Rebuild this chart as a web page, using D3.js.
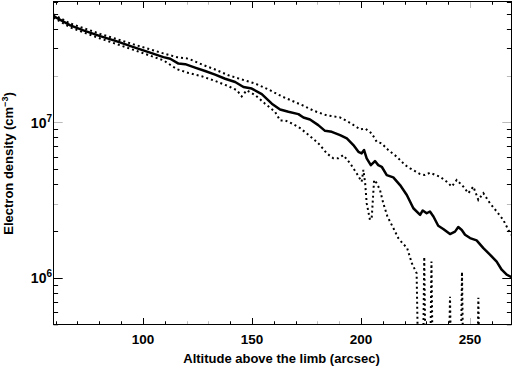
<!DOCTYPE html>
<html><head><meta charset="utf-8">
<script src="https://cdn.jsdelivr.net/npm/d3@7"></script>
<style>body{margin:0;background:#fff}svg{display:block}</style>
</head><body><svg id="c" width="513" height="368"></svg>
<script>
// ---- data ----
const altMean = [59.0,66.7,72.7,80.4,88.1,95.7,103.3,109.4,112.5,116.3,119.4,123.9,128.5,133.1,137.7,142.3,146.1,149.9,154.5,159.1,162.9,166.7,171.3,173.6,176.6,180.4,183.5,186.6,190.4,193.5,196.5,198.8,200.3,201.4,202.6,204.5,206.4,207.9,209.5,211.8,214.8,217.9,221.0,224.0,227.1,228.3,230.1,231.6,233.2,235.4,237.7,240.8,243.1,244.6,246.2,247.7,250.0,253.0,256.1,259.1,262.2,264.5,266.8,269.0];
const densMean = [4.84e7,4.21e7,3.91e7,3.59e7,3.32e7,3.05e7,2.81e7,2.63e7,2.57e7,2.39e7,2.37e7,2.25e7,2.14e7,2.03e7,1.91e7,1.82e7,1.69e7,1.65e7,1.52e7,1.32e7,1.21e7,1.17e7,1.13e7,1.076e7,1.044e7,9.6e6,8.82e6,8.69e6,8.28e6,7.88e6,7.14e6,6.47e6,6.32e6,6.63e6,5.87e6,5.31e6,5.64e6,5.31e6,5.18e6,4.58e6,4.43e6,3.95e6,3.41e6,2.80e6,2.54e6,2.71e6,2.60e6,2.67e6,2.48e6,2.16e6,2.06e6,1.91e6,1.98e6,2.12e6,2.03e6,1.89e6,1.80e6,1.74e6,1.55e6,1.41e6,1.27e6,1.126e6,1.046e6,1.01e6];

const altUpper = [59.0,66.7,80.4,95.7,109.4,115.6,120.9,127.0,133.1,139.2,145.3,151.4,157.5,163.7,169.8,173.6,178.2,184.3,190.4,195.0,199.6,201.9,204.9,207.2,209.5,212.5,216.4,220.2,222.5,227.1,229.3,231.6,236.2,239.3,241.6,243.9,246.9,249.2,251.5,253.8,256.1,259.1,262.2,265.2,268.3,269.0];
const densUpper = [4.95e7,4.33e7,3.71e7,3.18e7,2.78e7,2.63e7,2.57e7,2.36e7,2.19e7,2.01e7,1.89e7,1.78e7,1.63e7,1.47e7,1.35e7,1.28e7,1.19e7,1.11e7,1.076e7,9.93e6,9.01e6,9.14e6,8.49e6,7.50e6,7.32e6,6.63e6,6.01e6,5.31e6,5.06e6,4.65e6,4.58e6,4.74e6,4.47e6,4.15e6,3.86e6,4.26e6,3.86e6,3.50e6,3.86e6,3.17e6,3.50e6,3.02e6,2.67e6,2.36e6,1.94e6,1.89e6];

const altLower = [59.0,66.7,80.4,95.7,109.4,115.6,120.9,127.0,133.1,139.2,143.1,145.3,147.6,151.4,156.0,160.6,162.9,165.2,168.3,172.1,175.1,179.7,181.2,184.3,187.3,189.6,191.9,195.0,198.0,200.3,201.1,201.9,202.6,204.1,204.9,206.0,207.2,208.7,210.2,212.1,214.8,217.1,219.3,221.1,223.3,225.5,226.4,228.3,229.0,229.7,231.6,232.3,233.0,240.1,240.8,241.5,245.6,246.3,247.0,253.2,253.8,254.4,269.0];
const densLower = [4.73e7,4.08e7,3.47e7,2.93e7,2.51e7,2.20e7,2.08e7,1.98e7,1.85e7,1.71e7,1.61e7,1.47e7,1.61e7,1.50e7,1.32e7,1.17e7,1.03e7,1.03e7,9.84e6,9.18e6,8.49e6,7.50e6,7.14e6,6.32e6,5.87e6,5.87e6,6.16e6,5.45e6,4.70e6,4.15e6,4.94e6,4.06e6,3.02e6,2.36e6,2.42e6,4.26e6,4.06e6,3.67e6,3.02e6,2.48e6,2.09e6,1.80e6,1.65e6,1.56e6,1.24e6,1.07e6,2e5,2e5,1.36e6,2e5,2e5,1.27e6,2e5,2e5,7.55e5,2e5,2e5,1.09e6,2e5,2e5,7.44e5,2e5,2e5];

const xMajor = [100,150,200,250];
const xLabels = ["100","150","200","250"];
const yMajor = [1e6,1e7];
const yLabelExp = ["6","7"];

// ---- chart ----
const svg = d3.select("#c");
const L = 53.5, R = 511.5, T = 1.5, B = 324.5;
const x = d3.scaleLinear().domain([59,269]).range([L,R]);
const y = d3.scaleLog().domain([5e5,6e7]).range([B,T]);

svg.append("defs").append("clipPath").attr("id","clip")
  .append("rect").attr("x",L).attr("y",T).attr("width",R-L).attr("height",B-T);

const xMinor = d3.range(60,270,10).filter(v=>!xMajor.includes(v));
const yMinor = [];
[1e5,1e6,1e7].forEach(d=>{for(let k=2;k<=9;k++){const v=k*d; if(v>=5e5 && v<=6e7) yMinor.push(v);}});
const grayX = [120,130,180,190,250];
const grayY = [2e7,1e7,3e6,5e5];
const xLen = 6.5, yLen = 9.2;
const g = svg.append("g");
function tcol(v,list){return list.some(a=>Math.abs(a-v)/a<1e-6)?"#bbb":"#000";}
[...xMajor.map(v=>[v,xLen]),...xMinor.map(v=>[v,xLen/2])].forEach(([v,len])=>{
  const px = Math.round(x(v))+0.5, c = tcol(v,grayX);
  g.append("line").attr("x1",px).attr("x2",px).attr("y1",B).attr("y2",B-len).attr("stroke",c);
  g.append("line").attr("x1",px).attr("x2",px).attr("y1",T).attr("y2",T+len).attr("stroke",c);
});
[...yMajor.map(v=>[v,yLen]),...yMinor.map(v=>[v,yLen/2])].forEach(([v,len])=>{
  const py = Math.round(y(v))+0.5, c = tcol(v,grayY);
  g.append("line").attr("y1",py).attr("y2",py).attr("x1",L).attr("x2",L+len).attr("stroke",c);
  g.append("line").attr("y1",py).attr("y2",py).attr("x1",R).attr("x2",R-len).attr("stroke",c);
});
g.append("rect").attr("x",L).attr("y",T).attr("width",R-L).attr("height",B-T)
  .attr("fill","none").attr("stroke","#000").attr("stroke-width",1);

const font = "'Liberation Sans', Arial, sans-serif";
xMajor.forEach((v,i)=>{
  svg.append("text").attr("x",x(v)).attr("y",344).attr("text-anchor","middle")
    .attr("font-family",font).attr("font-weight","bold").attr("font-size",13.5).text(xLabels[i]);
});
svg.append("text").attr("x",281.5).attr("y",363).attr("text-anchor","middle")
  .attr("font-family",font).attr("font-weight","bold").attr("font-size",13)
  .text("Altitude above the limb (arcsec)");
yMajor.forEach((v,i)=>{
  const t = svg.append("text").attr("x",52).attr("y",y(v)+5.5).attr("text-anchor","end")
    .attr("font-family",font).attr("font-weight","bold").attr("font-size",14);
  t.append("tspan").text("10");
  t.append("tspan").attr("font-size",10).attr("dy",-6).text(yLabelExp[i]);
});
const yt = svg.append("text").attr("transform","translate(13,163.5) rotate(-90)")
  .attr("text-anchor","middle").attr("font-family",font).attr("font-weight","bold").attr("font-size",13);
yt.append("tspan").text("Electron density (cm");
yt.append("tspan").attr("font-size",9).attr("dy",-5).text("−3");
yt.append("tspan").attr("dy",5).text(")");

const line = (xs,ys)=>d3.line().x((d,i)=>x(xs[i])).y((d,i)=>y(ys[i]))(xs);
const plot = svg.append("g").attr("clip-path","url(#clip)");
plot.append("path").attr("d",line(altUpper,densUpper)).attr("fill","none")
  .attr("stroke","#000").attr("stroke-width",2).attr("stroke-dasharray","2,3");
plot.append("path").attr("d",line(altLower,densLower)).attr("fill","none")
  .attr("stroke","#000").attr("stroke-width",2).attr("stroke-dasharray","2,3");
plot.append("path").attr("d",line(altMean,densMean)).attr("fill","none")
  .attr("stroke","#000").attr("stroke-width",2.5).attr("stroke-linejoin","round");
</script></body></html>
